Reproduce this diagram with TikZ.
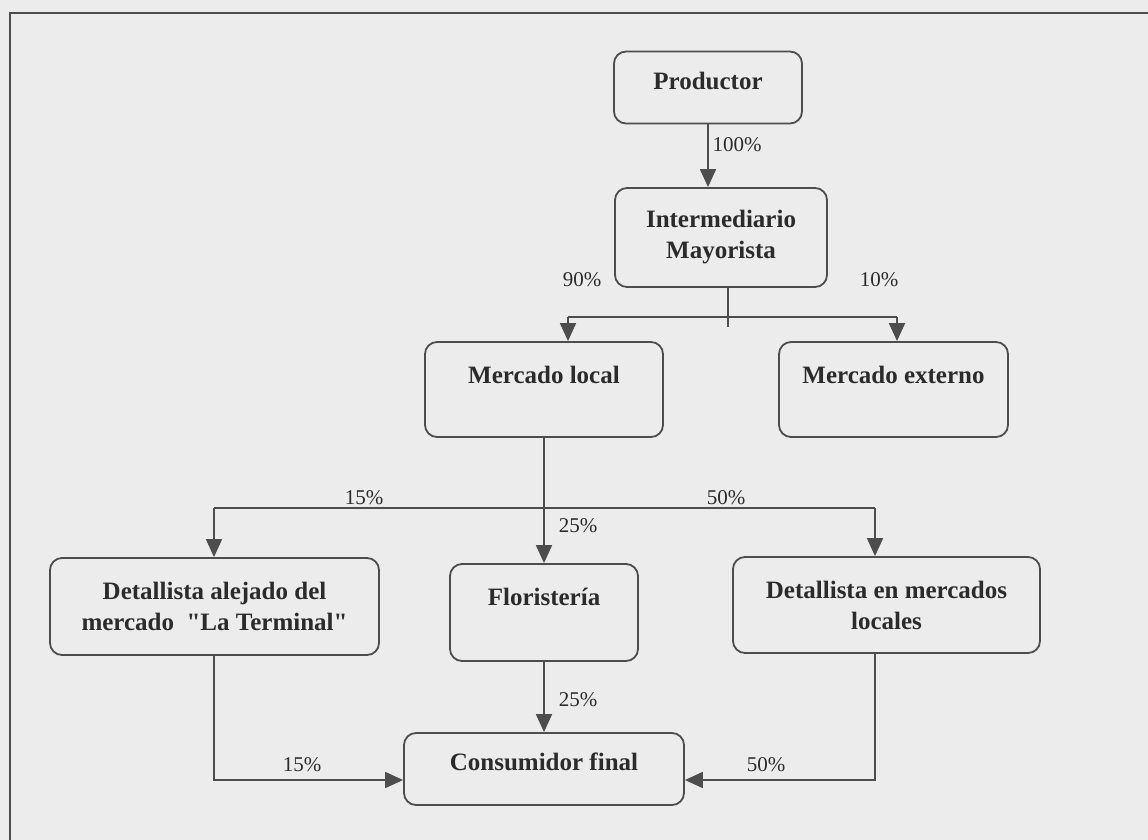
\documentclass[tikz,border=0pt]{standalone}
\usepackage{fontspec}
\setmainfont{Liberation Serif}
% same family without the TeX quote mapping, for straight double quotes
\newfontfamily\straightq{Liberation Serif}
\usetikzlibrary{arrows.meta}
\definecolor{paper}{HTML}{ECECEC}
\definecolor{ink}{HTML}{2B2B2B}
\definecolor{edge}{HTML}{4D4D4D}

\begin{document}
\begin{tikzpicture}[x=1pt,y=-1pt,
  box/.style={draw=edge, line width=1.8pt, rounded corners=12pt,
    font=\fontsize{25}{31}\selectfont\bfseries, text=ink, align=center, inner sep=0pt},
  oneline/.style={text height=17.5pt, text depth=#1},
  flow/.style={draw=edge, line width=1.8pt, -{Triangle[length=18pt,width=16pt]}},
  wire/.style={draw=edge, line width=1.8pt},
  pct/.style={font=\fontsize{21}{24}\selectfont, text=ink, inner sep=0pt}]

% sheet and frame
\fill[paper] (0,0) rectangle (1148,840);
\useasboundingbox (0,0) rectangle (1148,840);
\draw[edge, line width=2pt] (10,840) -- (10,13) -- (1148,13);

% boxes
\node[box, oneline=14.4pt, minimum width=188pt, minimum height=72pt] (prod) at (708,87.5) {Productor};
\node[box, minimum width=212pt, minimum height=99pt] (inter) at (721,237.5) {Intermediario\\Mayorista};
\node[box, oneline=30.4pt, minimum width=238pt, minimum height=95pt] (local) at (544,389.5) {Mercado local};
\node[box, oneline=30.4pt, minimum width=229pt, minimum height=95pt] (ext) at (893.5,389.5) {Mercado externo};
\node[box, font=\fontsize{25}{31}\straightq\bfseries, minimum width=329pt, minimum height=97pt] (alej) at (214.5,606.5) {Detallista alejado del\\mercado ~"La Terminal"};
\node[box, oneline=32.4pt, minimum width=188pt, minimum height=97pt] (flor) at (544,612.5) {Floristería};
\node[box, minimum width=307pt, minimum height=96pt] (mloc) at (886.5,605) {Detallista en mercados\\locales};
\node[box, oneline=14.4pt, minimum width=280pt, minimum height=72pt] (cons) at (544,769) {Consumidor final};

% junction points
\coordinate (s1) at (728,317);
\coordinate (s1L) at (568,317);
\coordinate (s1R) at (897,317);
\coordinate (s1E) at (728,327);
\coordinate (s2L) at (214,508);
\coordinate (s2R) at (875,508);
\coordinate (b1) at (214,780);
\coordinate (b2) at (875,780);

% connectors
\draw[flow] (prod.south) -- (prod.south |- inter.north);
\draw[wire] (inter.south -| s1) -- (s1E);
\draw[wire] (s1L) -- (s1R);
\draw[flow] (s1L) -- (s1L |- local.north);
\draw[flow] (s1R) -- (s1R |- ext.north);
\draw[flow] (local.south) -- (local.south |- flor.north);
\draw[wire] (s2L) -- (s2R);
\draw[flow] (s2L) -- (s2L |- alej.north);
\draw[flow] (s2R) -- (s2R |- mloc.north);
\draw[flow] (flor.south) -- (flor.south |- cons.north);
\draw[flow] (b1 |- alej.south) -- (b1) -- (b1 -| cons.west);
\draw[flow] (b2 |- mloc.south) -- (b2) -- (b2 -| cons.east);

% shares
\node[pct] (p100) at (737,145) {100\%};
\node[pct] (p90) at (582,280) {90\%};
\node[pct] (p10) at (879,280) {10\%};
\node[pct] (p15a) at (364,498) {15\%};
\node[pct] (p50a) at (726,498) {50\%};
\node[pct] (p25a) at (578,526) {25\%};
\node[pct] (p25b) at (578,700) {25\%};
\node[pct] (p15b) at (302,765) {15\%};
\node[pct] (p50b) at (766,765) {50\%};
\end{tikzpicture}
\end{document}
